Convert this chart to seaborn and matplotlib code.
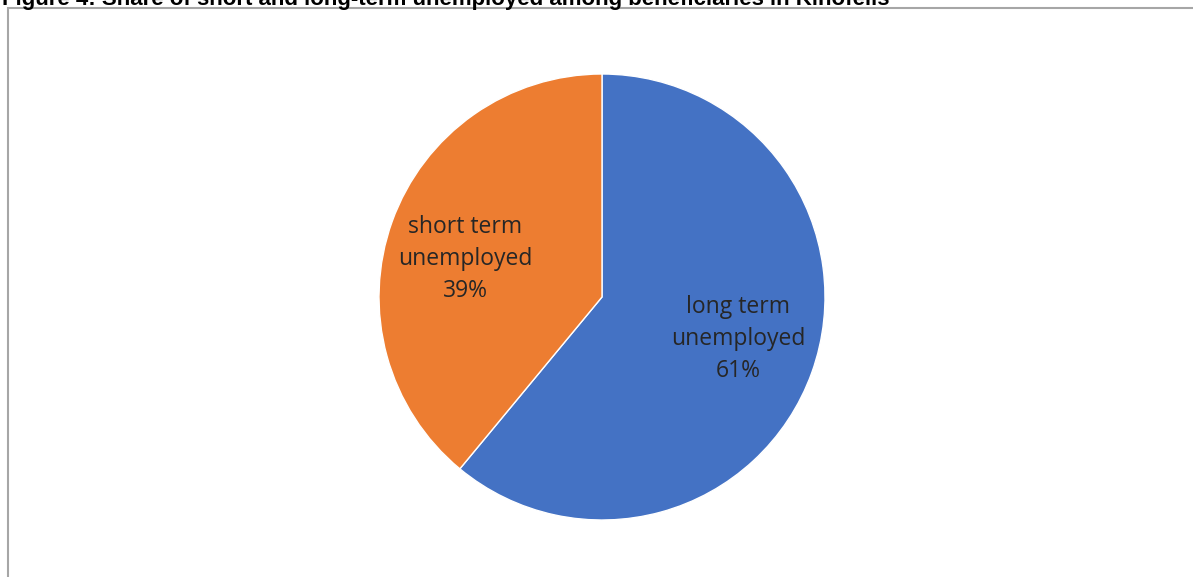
import matplotlib
matplotlib.use("Agg")
import matplotlib.pyplot as plt
import matplotlib.patches as mpatches
import seaborn as sns

# data
categories = ["long term\nunemployed", "short term\nunemployed"]
shares = [61, 39]
colors = ["#4472C4", "#ED7D31"]
title = "Figure 4: Share of short and long-term unemployed among beneficiaries in Kinofelis"

sns.set_theme(style="white")
plt.rcParams["font.family"] = ["Open Sans", "DejaVu Sans"]

W, H = 1193, 577
fig = plt.figure(figsize=(W / 100, H / 100), dpi=100)
fig.patch.set_facecolor("white")

# chart frame (cropped on right and bottom)
frame = mpatches.Rectangle((8 / W, -0.1), 1.2, 1.1 - 8 / H, transform=fig.transFigure,
                           fill=False, edgecolor="#A6A6A6", linewidth=1.5)
fig.add_artist(frame)

# title, cut off at the top edge as in the source page
fig.text(2 / W, 1 - 5 / H, title, fontsize=16, fontweight="bold", color="black",
         va="baseline", ha="left", family=["Liberation Sans Narrow", "Liberation Sans", "DejaVu Sans"])

# pie axes: centre (602, 297), radius 223 px
ax = fig.add_axes([379 / W, (H - 520) / H, 446 / W, 446 / H])
labels = [f"{c}\n{s}%" for c, s in zip(categories, shares)]
wedges, texts = ax.pie(shares, labels=labels, colors=colors, startangle=90,
                       counterclock=False, labeldistance=0.64,
                       wedgeprops=dict(edgecolor="white", linewidth=1),
                       textprops=dict(fontsize=16.5, color="#262626", linespacing=1.45))
# nudge labels to where Excel put them
offsets = [(0.61, -0.19), (-0.614, 0.171)]
for t, pos in zip(texts, offsets):
    t.set_horizontalalignment("center")
    t.set_verticalalignment("center")
    t.set_position(pos)
ax.set_xlim(-1, 1)
ax.set_ylim(-1, 1)
ax.set_aspect("equal")
ax.axis("off")

fig.savefig("out.png", dpi=100)
